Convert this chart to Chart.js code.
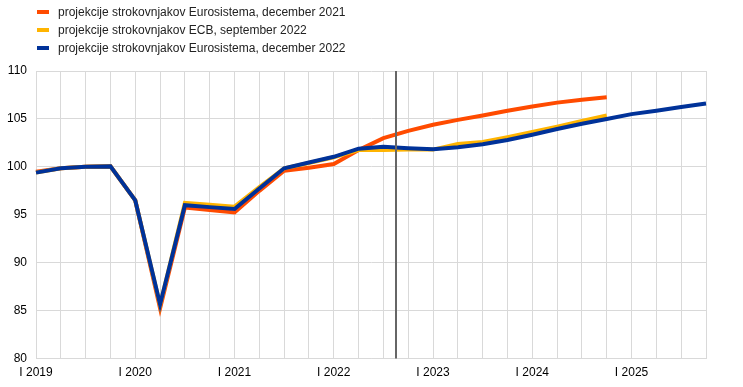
<!DOCTYPE html>
<html>
<head>
<meta charset="utf-8">
<script src="https://cdn.jsdelivr.net/npm/chart.js@4"></script>
<style>
  html, body { margin: 0; padding: 0; background: #fff; }
  #wrap { position: relative; width: 743px; height: 387px; }
  #legend { position: absolute; left: 37px; top: 3px; font: 12px "Liberation Sans", Arial, sans-serif; color: #222; }
  #legend div { height: 18px; line-height: 18px; white-space: nowrap; }
  #legend span { display: inline-block; width: 12px; height: 4px; margin-right: 9px; vertical-align: middle; position: relative; top: -1px; }
</style>
</head>
<body>
<div id="wrap">
  <canvas id="c" width="743" height="387"></canvas>
  <div id="legend"></div>
</div>
<script>
const quarters = [
  'I 2019', 'II 2019', 'III 2019', 'IV 2019',
  'I 2020', 'II 2020', 'III 2020', 'IV 2020',
  'I 2021', 'II 2021', 'III 2021', 'IV 2021',
  'I 2022', 'II 2022', 'III 2022', 'IV 2022',
  'I 2023', 'II 2023', 'III 2023', 'IV 2023',
  'I 2024', 'II 2024', 'III 2024', 'IV 2024',
  'I 2025', 'II 2025', 'III 2025', 'IV 2025'
];
const seriesNames = [
  'projekcije strokovnjakov Eurosistema, december 2021',
  'projekcije strokovnjakov ECB, september 2022',
  'projekcije strokovnjakov Eurosistema, december 2022'
];
const dec2021 = [99.5, 99.85, 100.0, 100.05, 96.5, 85.25, 95.75, 95.5, 95.25, 97.5, 99.6, 99.9,
  100.3, 101.75, 103.0, 103.75, 104.4, 104.9, 105.35, 105.85, 106.3, 106.7, 107.0, 107.25];
const sep2022 = [99.4, 99.85, 100.0, 100.05, 96.5, 85.6, 96.25, 96.05, 95.85, 97.9, 99.85, 100.4,
  101.0, 101.75, 101.75, 101.8, 101.8, 102.4, 102.6, 103.1, 103.65, 104.2, 104.8, 105.35];
const dec2022 = [99.4, 99.85, 100.0, 100.05, 96.5, 85.65, 96.0, 95.8, 95.6, 97.75, 99.85, 100.45,
  101.05, 101.9, 102.1, 101.95, 101.85, 102.05, 102.35, 102.8, 103.35, 103.95, 104.5, 105.0,
  105.5, 105.85, 106.25, 106.6];
const colours = ['#ff4b00', '#ffb400', '#003299'];
const yTicks = [80, 85, 90, 95, 100, 105, 110];
const cutoffPosition = 14.5; // between III 2022 and IV 2022

const cutoffLine = {
  id: 'cutoffLine',
  afterDatasetsDraw(chart) {
    const { ctx, chartArea, scales } = chart;
    const x = Math.round(scales.x.getPixelForValue(cutoffPosition));
    ctx.save();
    ctx.strokeStyle = '#666666';
    ctx.lineWidth = 2;
    ctx.beginPath();
    ctx.moveTo(x, chartArea.top);
    ctx.lineTo(x, chartArea.bottom);
    ctx.stroke();
    ctx.restore();
  }
};

const font = { family: '"Liberation Sans", Arial, sans-serif', size: 12 };

const chart = new Chart(document.getElementById('c'), {
  type: 'line',
  data: {
    labels: quarters,
    datasets: [dec2021, sep2022, dec2022].map((data, i) => ({
      label: seriesNames[i],
      data,
      borderColor: colours[i],
      backgroundColor: colours[i],
      borderWidth: 4,
      pointRadius: 0,
      tension: 0,
      order: 3 - i
    }))
  },
  options: {
    responsive: false,
    animation: false,
    layout: { padding: { top: 71, right: 37, bottom: 0, left: 0 } },
    plugins: { legend: { display: false }, tooltip: { enabled: false } },
    scales: {
      x: {
        type: 'category',
        offset: false,
        grid: { color: '#d9d9d9', drawTicks: false },
        border: { color: '#d9d9d9' },
        ticks: {
          autoSkip: false,
          maxRotation: 0,
          padding: 7,
          color: '#000',
          font,
          callback(value, index) { return index % 4 === 0 ? quarters[index] : ''; }
        }
      },
      y: {
        min: yTicks[0],
        max: yTicks[yTicks.length - 1],
        afterFit(scale) { scale.width = 36; },
        afterBuildTicks(scale) { scale.ticks = yTicks.map(v => ({ value: v })); },
        grid: { color: '#d9d9d9', drawTicks: false },
        border: { color: '#d9d9d9' },
        ticks: { padding: 9, color: '#000', font }
      }
    }
  },
  plugins: [cutoffLine]
});

const legend = document.getElementById('legend');
chart.data.datasets.forEach(ds => {
  const row = document.createElement('div');
  const swatch = document.createElement('span');
  swatch.style.background = ds.borderColor;
  row.appendChild(swatch);
  row.appendChild(document.createTextNode(ds.label));
  legend.appendChild(row);
});
</script>
</body>
</html>
